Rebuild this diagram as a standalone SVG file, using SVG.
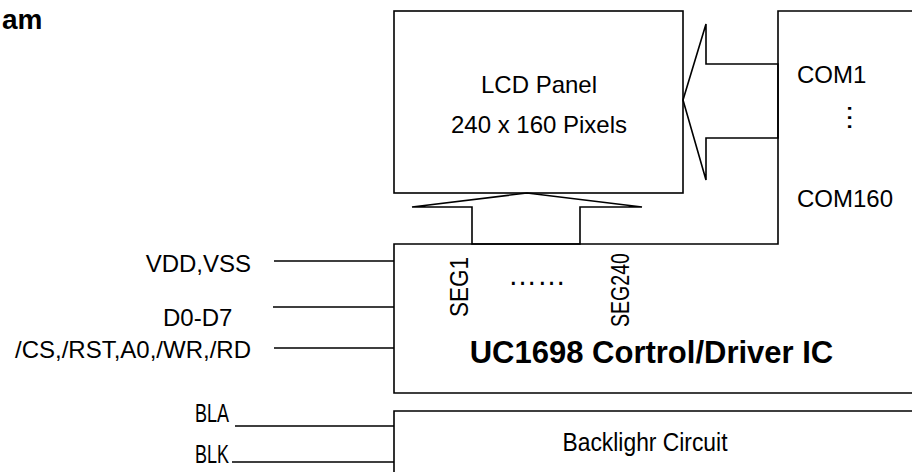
<svg xmlns="http://www.w3.org/2000/svg" width="912" height="472" viewBox="0 0 912 472">
<style>
.ln{fill:none;stroke:#000;stroke-width:1.6;stroke-linejoin:miter}
.t{font-family:"Liberation Sans",Arial,sans-serif;font-size:24px;fill:#000}
.b{font-family:"Liberation Sans",Arial,sans-serif;font-size:31px;font-weight:bold;fill:#000}
</style>
<rect width="912" height="472" fill="#fff"/>
<text class="b" x="2" y="29" style="font-size:28px">am</text>
<g id="lcd">
<rect class="ln" x="394" y="11" width="289" height="182"/>
<text class="t" x="539" y="93" text-anchor="middle">LCD Panel</text>
<text class="t" x="539" y="133" text-anchor="middle">240 x 160 Pixels</text>
</g>
<g id="ic">
<path class="ln" d="M913 11H778V244H394V393H913"/>
<text class="t" x="797" y="83">COM1</text>
<text class="t" transform="translate(849,117.5) rotate(90)" y="1.5" text-anchor="middle" style="font-size:29px">…</text>
<text class="t" x="797" y="207">COM160</text>
<text class="t" transform="translate(468,317) rotate(-90)" style="font-size:26px" textLength="60" lengthAdjust="spacingAndGlyphs">SEG1</text>
<text class="t" x="537" y="284.5" text-anchor="middle" style="font-size:29px">……</text>
<text class="t" transform="translate(629,327) rotate(-90)" style="font-size:25px" textLength="74" lengthAdjust="spacingAndGlyphs">SEG240</text>
<text class="b" x="651.5" y="363" text-anchor="middle">UC1698 Cortrol/Driver IC</text>
</g>
<g id="backlight">
<path class="ln" d="M913 411H394V473"/>
<text class="t" x="645" y="451" text-anchor="middle" style="font-size:25px" textLength="165" lengthAdjust="spacingAndGlyphs">Backlighr Circuit</text>
</g>
<g id="labels">
<text class="t" x="251" y="272" text-anchor="end">VDD,VSS</text>
<text class="t" x="163" y="326">D0-D7</text>
<text class="t" x="251" y="358" text-anchor="end">/CS,/RST,A0,/WR,/RD</text>
<text class="t" x="195" y="422" style="font-size:25px" textLength="34" lengthAdjust="spacingAndGlyphs">BLA</text>
<text class="t" x="195" y="463" style="font-size:25px" textLength="34" lengthAdjust="spacingAndGlyphs">BLK</text>
</g>
<g id="connectors">
<polygon class="ln" points="778,64 706,64 706,24 683,100 706,180 706,138 778,138"/>
<polygon class="ln" points="472,244 472,207 412,207 527,193 642,207 580,207 580,244"/>
<path class="ln" d="M274 261H394M273 307H394M274 348H394M235 426H394M232 462H394"/>
</g>
</svg>
